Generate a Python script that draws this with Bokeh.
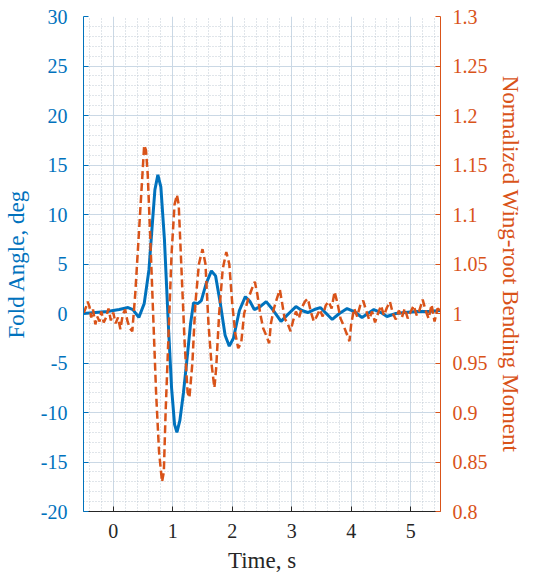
from bokeh.plotting import figure
from bokeh.models import Range1d, LinearAxis, SingleIntervalTicker, CustomJSTickFormatter
from bokeh.embed import file_html
from bokeh.resources import INLINE

# Fold angle (deg) vs time (s)
fold_t = [-0.5, -0.3, -0.1, 0.1, 0.25, 0.33, 0.43, 0.52, 0.6, 0.65, 0.7, 0.75, 0.8,
          0.86, 0.93, 0.98, 1.03, 1.07, 1.12, 1.18, 1.25, 1.3, 1.35, 1.42, 1.48, 1.56,
          1.65, 1.72, 1.8, 1.88, 1.95, 2.02, 2.12, 2.22, 2.3, 2.37, 2.47, 2.57, 2.68,
          2.82, 2.95, 3.07, 3.17, 3.27, 3.38, 3.48, 3.58, 3.68, 3.8, 3.93, 4.05, 4.18,
          4.28, 4.38, 4.5, 4.6, 4.75, 4.9, 5.1, 5.3, 5.5]
fold_deg = [0.0, 0.1, 0.2, 0.4, 0.6, 0.4, -0.4, 1.0, 4.4, 8.5, 12.5, 14.0, 12.8,
            7.5, -1.6, -7.5, -11.2, -12.0, -10.8, -8.0, -4.0, -1.0, 1.1, 1.0, 1.3, 3.0,
            4.3, 3.8, 1.0, -2.2, -3.3, -2.5, 0.3, 1.7, 1.2, 0.4, 0.7, 1.2, 0.4,
            -0.8, 0.0, 0.7, 0.3, 0.1, 0.4, 0.6, 0.0, -0.6, 0.0, 0.5, 0.2, -0.4,
            0.0, 0.4, 0.1, -0.3, 0.0, 0.1, 0.2, 0.2, 0.3]

# Normalized wing-root bending moment vs time (s)
moment_t = [-0.5, -0.46, -0.43, -0.4, -0.37, -0.34, -0.3, -0.27, -0.23, -0.2, -0.16,
            -0.12, -0.08, -0.04, 0.0, 0.04, 0.08, 0.12, 0.16, 0.2, 0.24, 0.28, 0.32,
            0.37, 0.42, 0.47, 0.52, 0.55, 0.58, 0.62, 0.67, 0.72, 0.77, 0.82, 0.85,
            0.88, 0.93, 0.98, 1.03, 1.07, 1.1, 1.15, 1.2, 1.25, 1.28, 1.33, 1.38, 1.44,
            1.5, 1.55, 1.6, 1.65, 1.7, 1.73, 1.78, 1.84, 1.9, 1.95, 2.0, 2.05, 2.1,
            2.15, 2.2, 2.27, 2.33, 2.38, 2.42, 2.47, 2.52, 2.57, 2.62, 2.65, 2.7, 2.75,
            2.8, 2.84, 2.88, 2.93, 2.98, 3.02, 3.07, 3.12, 3.17, 3.22, 3.27, 3.32, 3.37,
            3.42, 3.47, 3.52, 3.57, 3.62, 3.67, 3.72, 3.77, 3.82, 3.87, 3.92, 3.97, 4.0,
            4.05, 4.1, 4.15, 4.2, 4.25, 4.3, 4.35, 4.4, 4.45, 4.5, 4.55, 4.6, 4.65, 4.7,
            4.75, 4.8, 4.85, 4.9, 4.95, 5.0, 5.05, 5.1, 5.15, 5.2, 5.25, 5.3, 5.35,
            5.4, 5.45, 5.5]
moment_val = [1.000, 1.006, 1.012, 1.007, 0.996, 1.004, 0.989, 0.997, 0.992, 1.002,
              0.991, 0.996, 1.005, 0.993, 1.001, 0.990, 0.996, 0.984, 0.999, 1.004,
              0.992, 0.985, 0.982, 1.020, 1.070, 1.120, 1.170, 1.165, 1.140, 1.080,
              1.000, 0.920, 0.860, 0.830, 0.840, 0.900, 0.980, 1.060, 1.110, 1.120,
              1.110, 1.040, 0.970, 0.920, 0.915, 0.950, 1.010, 1.050, 1.065, 1.050,
              0.990, 0.950, 0.925, 0.945, 1.000, 1.045, 1.062, 1.050, 1.010, 0.980,
              0.965, 0.970, 1.000, 1.015, 1.025, 1.032, 1.020, 1.000, 0.985, 0.978,
              0.970, 0.990, 1.005, 1.015, 1.024, 1.010, 0.995, 0.990, 0.982, 0.992,
              1.002, 0.995, 1.006, 1.012, 1.015, 1.002, 0.992, 0.997, 1.004, 0.997,
              1.008, 1.012, 1.005, 1.022, 1.010, 0.995, 0.988, 0.980, 0.972, 0.990,
              1.005, 0.997, 1.008, 1.013, 1.003, 0.994, 1.002, 0.991, 1.000, 1.008,
              0.998, 1.006, 1.012, 1.000, 0.994, 1.003, 0.996, 1.005, 0.995, 1.002,
              1.008, 0.998, 1.004, 1.014, 1.003, 0.995, 1.009, 0.992, 1.005, 1.003]

BLUE = "#0072BD"
ORANGE = "#D95319"
DARK = "#262626"
FONT = "Liberation Serif"

p = figure(frame_width=357, frame_height=495, output_backend="svg", toolbar_location=None,
           x_range=Range1d(-0.5, 5.5), y_range=Range1d(-20, 30),
           min_border_left=80, min_border_right=88, min_border_top=16,
           min_border_bottom=55)
p.outline_line_color = None
p.background_fill_color = "white"
p.border_fill_color = "white"
p.extra_y_ranges = {"moment": Range1d(0.8, 1.3)}

# x axis
p.xaxis.ticker = SingleIntervalTicker(interval=1, num_minor_ticks=5)
p.xaxis.axis_label = "Time, s"
p.xaxis.axis_line_color = DARK
p.xaxis.major_tick_line_color = DARK
p.xaxis.minor_tick_line_color = None
p.xaxis.major_tick_in = 5
p.xaxis.major_tick_out = 0
p.xaxis.major_label_standoff = 8
p.xaxis.axis_label_standoff = 7
p.xaxis.major_label_text_color = DARK
p.xaxis.axis_label_text_color = DARK

# left axis
p.yaxis.ticker = SingleIntervalTicker(interval=5, num_minor_ticks=5)
p.yaxis.formatter = CustomJSTickFormatter(code="return String(Math.round(tick));")
p.yaxis.axis_label = "Fold Angle, deg"
p.yaxis.axis_line_color = BLUE
p.yaxis.major_tick_line_color = BLUE
p.yaxis.minor_tick_line_color = None
p.yaxis.major_tick_in = 5
p.yaxis.major_tick_out = 0
p.yaxis.major_label_standoff = 12
p.yaxis.axis_label_standoff = 9
p.yaxis.major_label_text_color = BLUE
p.yaxis.axis_label_text_color = BLUE

# right axis
ry = LinearAxis(y_range_name="moment",
                ticker=SingleIntervalTicker(interval=0.05, num_minor_ticks=0),
                formatter=CustomJSTickFormatter(code="return String(Number(tick.toFixed(2)));"),
                axis_label="Normalized Wing-root Bending Moment")
ry.axis_line_color = ORANGE
ry.major_tick_line_color = ORANGE
ry.minor_tick_line_color = None
ry.major_tick_in = 5
ry.major_tick_out = 0
ry.major_label_standoff = 12
ry.axis_label_standoff = 7
ry.major_label_text_color = ORANGE
ry.axis_label_text_color = ORANGE
p.add_layout(ry, "right")

for ax in [p.xaxis[0], p.yaxis[0], ry]:
    ax.major_label_text_font = FONT
    ax.axis_label_text_font = FONT
    ax.major_label_text_font_size = "20px"
    ax.axis_label_text_font_size = "23px"
    ax.axis_label_text_font_style = "normal"
    ax.axis_line_width = 1

# grids
for g in [p.xgrid[0], p.ygrid[0]]:
    g.grid_line_color = "#cad8e5"
    g.grid_line_width = 1
    g.minor_grid_line_color = "#c0cad4"
    g.minor_grid_line_dash = "1 2"
    g.minor_grid_line_width = 1

p.line(fold_t, fold_deg, line_color=BLUE, line_width=3)
p.line(moment_t, moment_val, y_range_name="moment", line_color=ORANGE,
       line_width=2.5, line_dash="8 4")

open("out.html", "w").write(file_html(p, INLINE))
